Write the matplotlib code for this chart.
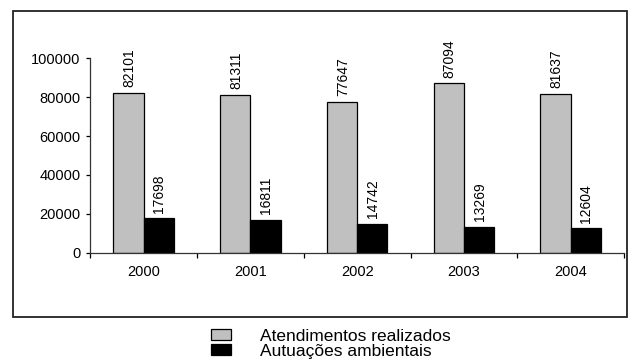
import numpy as np
import matplotlib.pyplot as plt
from matplotlib.patches import Rectangle

plt.rcParams['font.family'] = ['Liberation Sans', 'DejaVu Sans']

years = ['2000', '2001', '2002', '2003', '2004']
atendimentos = [82101, 81311, 77647, 87094, 81637]
autuacoes = [17698, 16811, 14742, 13269, 12604]
yticks = [0, 20000, 40000, 60000, 80000, 100000]

fig = plt.figure(figsize=(6.32, 3.62), dpi=100)
ax = fig.add_axes([0.1429, 0.3019, 0.8445, 0.5373])

x = np.arange(len(years))
w = 0.283
b1 = ax.bar(x - w/2, atendimentos, w, color='#c0c0c0', edgecolor='black', linewidth=0.9,
            label='Atendimentos realizados')
b2 = ax.bar(x + w/2, autuacoes, w, color='black', edgecolor='black', linewidth=0.9,
            label='Autuações ambientais')

# value labels above the bars, rotated
for bars, vals in [(b1, atendimentos), (b2, autuacoes)]:
    for r, v in zip(bars, vals):
        ax.annotate(str(v), (r.get_x() + r.get_width()/2, r.get_height()),
                    xytext=(0.5, 4), textcoords='offset points', rotation=90,
                    ha='center', va='bottom', fontsize=10)

ax.set_xlim(-0.5, len(years) - 0.5)
ax.set_ylim(0, 100000)
ax.set_yticks(yticks)
ax.set_yticklabels([str(t) for t in yticks])
ax.set_xticks(np.arange(len(years) + 1) - 0.5)
ax.set_xticklabels([])
ax.set_xticks(x, minor=True)
ax.set_xticklabels(years, minor=True)
ax.tick_params(axis='x', which='major', length=3.5, direction='out', width=0.9)
ax.tick_params(axis='x', which='minor', length=0, pad=9, labelsize=10.5)
ax.tick_params(axis='y', length=3, width=0.9, pad=4, labelsize=10.5)
for s in ['top', 'right']:
    ax.spines[s].set_visible(False)
for s in ['left', 'bottom']:
    ax.spines[s].set_linewidth(0.9)
    ax.spines[s].set_color('#333333')

# outer frame around the plot
fig.patches.append(Rectangle((13/632, 1 - 317/362), 614/632, 306/362,
                             transform=fig.transFigure, fill=False,
                             edgecolor='#222222', linewidth=1.3))

fig.legend(handles=[b1, b2], loc='center', bbox_to_anchor=(331/632, 1 - 344/362),
           frameon=False, fontsize=12.5, handlelength=1.15, handleheight=0.6,
           handletextpad=1.65, labelspacing=0.0, borderpad=0)

fig.savefig('out.png', dpi=100)
